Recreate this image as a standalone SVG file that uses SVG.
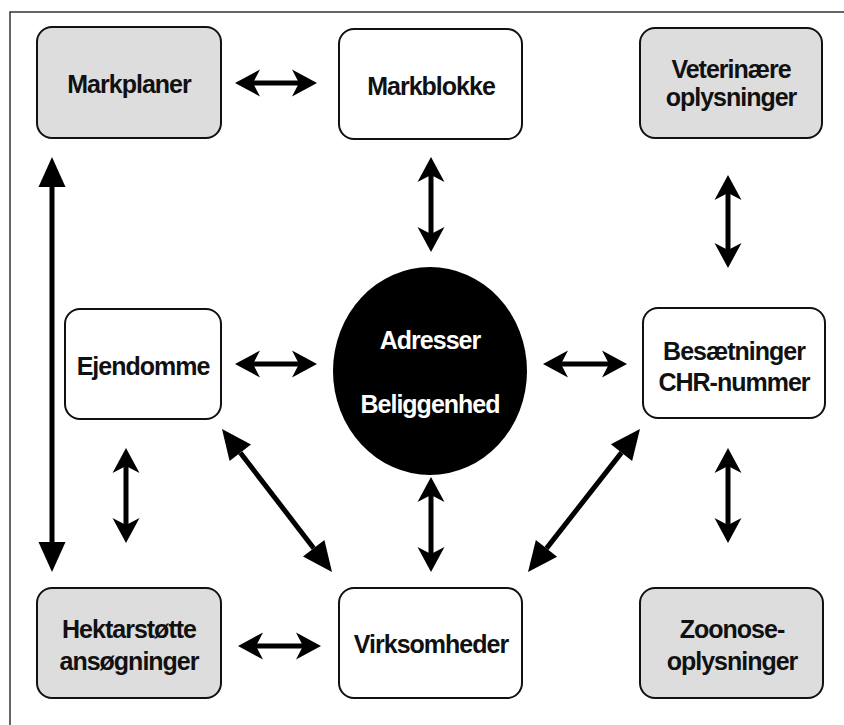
<svg xmlns="http://www.w3.org/2000/svg" width="844" height="725" viewBox="0 0 844 725">
  <style>
    .box { stroke: #111; stroke-width: 2; }
    .plain { fill: #ffffff; }
    .grey { fill: #dddddd; }
    .lbl { font-family: "Liberation Sans", Arial, Helvetica, sans-serif; font-weight: bold; font-size: 25px; letter-spacing: -1px; fill: #111; text-anchor: middle; }
    .inv { fill: #ffffff; }
    .link { stroke: #000; stroke-width: 5; fill: none; }
    .barbed { marker-start: url(#barb); marker-end: url(#barb); }
    .solid { marker-start: url(#tri); marker-end: url(#tri); }
  </style>
  <defs>
    <!-- swept-back arrowhead; origin sits at the notch where the shaft ends -->
    <marker id="barb" markerUnits="userSpaceOnUse" orient="auto-start-reverse" refX="0" refY="0" markerWidth="30" markerHeight="30" overflow="visible">
      <path d="M18,0 L-7,-13.5 L0,0 L-7,13.5 Z" fill="#000"/>
    </marker>
    <!-- flat-backed triangular arrowhead; origin at its base -->
    <marker id="tri" markerUnits="userSpaceOnUse" orient="auto-start-reverse" refX="0" refY="0" markerWidth="32" markerHeight="32" overflow="visible">
      <path d="M30,0 L0,-13.5 L0,13.5 Z" fill="#000"/>
    </marker>
  </defs>

  <rect width="844" height="725" fill="#ffffff"/>
  <!-- outer frame, open towards right and bottom -->
  <rect x="10" y="12" width="900" height="800" fill="none" stroke="#333" stroke-width="1.5"/>

  <g id="connectors">
    <line class="link barbed" x1="253" y1="83" x2="299" y2="83"/>
    <line class="link barbed" x1="431" y1="175" x2="431" y2="234"/>
    <line class="link barbed" x1="728" y1="193" x2="728" y2="250"/>
    <line class="link barbed" x1="253" y1="364" x2="299" y2="364"/>
    <line class="link barbed" x1="561" y1="364" x2="609" y2="364"/>
    <line class="link barbed" x1="126" y1="466" x2="126" y2="525"/>
    <line class="link barbed" x1="431" y1="495" x2="431" y2="554"/>
    <line class="link barbed" x1="728" y1="466" x2="728" y2="525"/>
    <line class="link barbed" x1="256" y1="646" x2="303" y2="646"/>
    <line class="link solid" x1="52" y1="187" x2="52" y2="542" stroke-width="6"/>
    <line class="link solid" x1="240.3" y1="452.8" x2="313.7" y2="548.2"/>
    <line class="link solid" x1="621.5" y1="452.6" x2="546.5" y2="548.4"/>
  </g>

  <g id="markplaner">
    <rect class="box grey" x="37" y="27" width="184" height="111" rx="15"/>
    <text class="lbl" x="129" y="93">Markplaner</text>
  </g>
  <g id="markblokke">
    <rect class="box plain" x="339" y="29" width="183" height="110" rx="15"/>
    <text class="lbl" x="431" y="95">Markblokke</text>
  </g>
  <g id="veterinaere">
    <rect class="box grey" x="640" y="28" width="182" height="110" rx="15"/>
    <text class="lbl" x="731" y="78">Veterinære</text>
    <text class="lbl" x="731" y="106">oplysninger</text>
  </g>
  <g id="ejendomme">
    <rect class="box plain" x="65" y="309" width="156" height="110" rx="15"/>
    <text class="lbl" x="143" y="375">Ejendomme</text>
  </g>
  <g id="adresser">
    <ellipse cx="430" cy="371" rx="97" ry="104" fill="#000"/>
    <text class="lbl inv" x="430" y="349">Adresser</text>
    <text class="lbl inv" x="430" y="413">Beliggenhed</text>
  </g>
  <g id="besaetninger">
    <rect class="box plain" x="643" y="308" width="182" height="110" rx="15"/>
    <text class="lbl" x="734" y="360">Besætninger</text>
    <text class="lbl" x="734" y="391">CHR-nummer</text>
  </g>
  <g id="hektarstoette">
    <rect class="box grey" x="37" y="588" width="184" height="110" rx="15"/>
    <text class="lbl" x="129" y="638">Hektarstøtte</text>
    <text class="lbl" x="129" y="670">ansøgninger</text>
  </g>
  <g id="virksomheder">
    <rect class="box plain" x="339" y="588" width="183" height="110" rx="15"/>
    <text class="lbl" x="431" y="653">Virksomheder</text>
  </g>
  <g id="zoonose">
    <rect class="box grey" x="640" y="588" width="183" height="110" rx="15"/>
    <text class="lbl" x="732" y="638">Zoonose-</text>
    <text class="lbl" x="732" y="670">oplysninger</text>
  </g>
</svg>
